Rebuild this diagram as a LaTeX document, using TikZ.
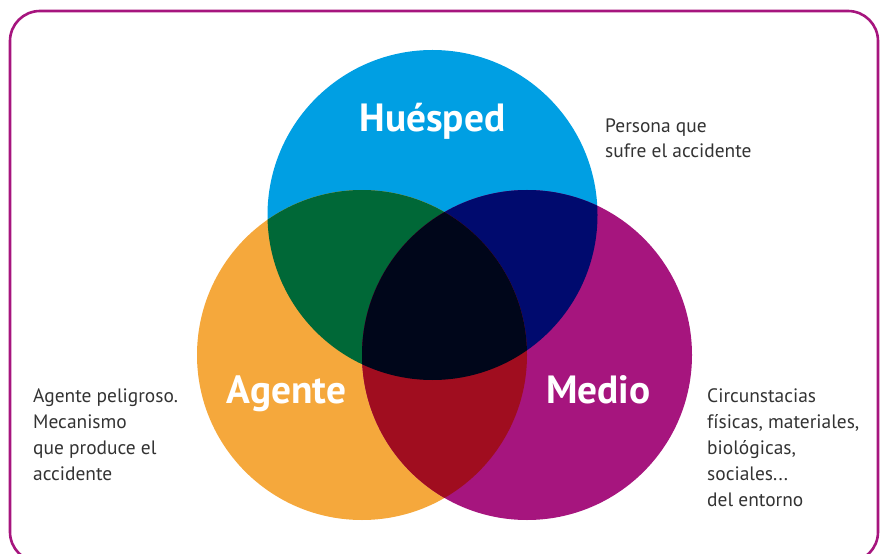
\documentclass[tikz,border=0pt]{standalone}
\usepackage{fontspec}
\setmainfont{PT Sans}
\definecolor{cblue}{HTML}{009FE3}
\definecolor{corange}{HTML}{F5A83C}
\definecolor{cmag}{HTML}{A6157E}
\definecolor{cgreen}{HTML}{006837}
\definecolor{cnavy}{HTML}{000A6E}
\definecolor{cred}{HTML}{A00D1F}
\definecolor{cblack}{HTML}{00061A}
\definecolor{ctext}{HTML}{333333}
\begin{document}
\begin{tikzpicture}[x=1bp,y=-1bp,
  big/.style={font=\fontsize{39.5}{42}\selectfont\bfseries, text=white, inner sep=0pt, anchor=base},
  body/.style={font=\fontsize{19.5}{26}\selectfont, text=ctext, align=left, inner sep=0pt, anchor=base west},
  ring/.style={circle, minimum size=330bp, inner sep=0pt, draw=none}]
\useasboundingbox (0,0) rectangle (885,554);
\def\R{165}
\coordinate (ch) at (432.5,215);
\coordinate (ca) at (362,355);
\coordinate (cm) at (527,355);
\node[ring, fill=cblue] (hue) at (ch) {};
\node[ring, fill=corange] (age) at (ca) {};
\node[ring, fill=cmag] (med) at (cm) {};
\begin{scope}
  \clip (ch) circle[radius=\R];
  \fill[cgreen] (ca) circle[radius=\R];
  \fill[cnavy] (cm) circle[radius=\R];
\end{scope}
\begin{scope}
  \clip (ca) circle[radius=\R];
  \fill[cred] (cm) circle[radius=\R];
  \clip (ch) circle[radius=\R];
  \fill[cblack] (cm) circle[radius=\R];
\end{scope}
\draw[cmag, line width=2.6bp, rounded corners=30bp] (10,11) rectangle (878,562);
\node[big] (lh) at (432.5,132) {Huésped};
\node[big] (la) at (286.5,403) {Agente};
\node[big] (lm) at (598.5,403) {Medio};
\node[body] (th) at (605,158) {Persona que\\sufre el accidente};
\node[body] (ta) at (33,480) {Agente peligroso.\\Mecanismo\\que produce el\\accidente};
\node[body] (tm) at (707,506) {Circunstacias\\físicas, materiales,\\biológicas,\\sociales...\\del entorno};
\end{tikzpicture}
\end{document}
